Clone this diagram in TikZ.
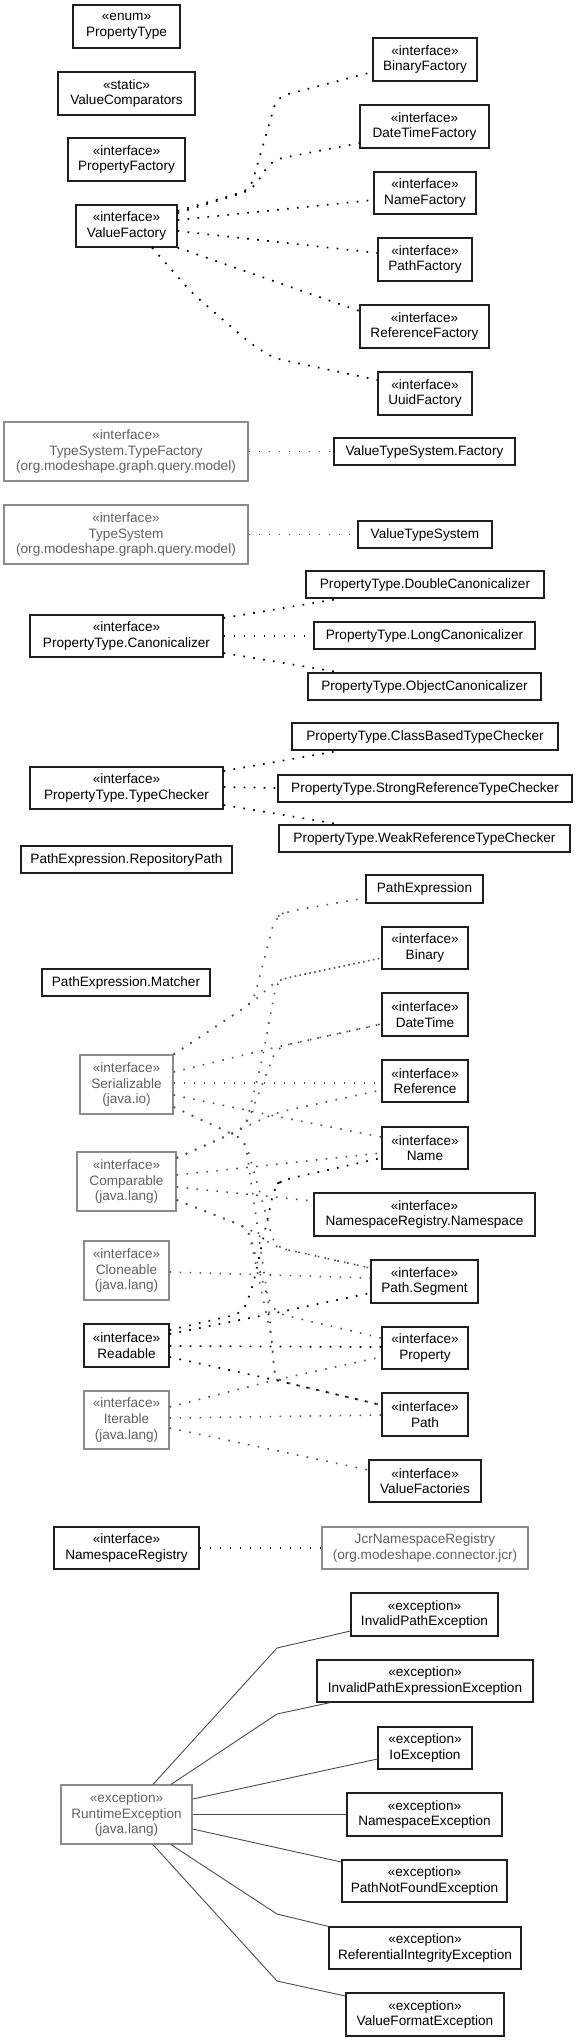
\documentclass[tikz,border=0pt]{standalone}
\usepackage{fontspec}
\setmainfont{Liberation Sans}
\usetikzlibrary{calc}
\tikzset{
  cls/.style={draw=black!88, line width=1.2pt, inner sep=0pt, align=center, text=black, font=\fontsize{13.6}{15.7}\selectfont},
  gcls/.style={cls, draw=black!45, text=black!62},
  dep/.style={line width=1.7pt, dash pattern=on 1.7pt off 8.3pt, black},
  gdep/.style={line width=1.6pt, dash pattern=on 1.6pt off 8.4pt, black!68},
  gen/.style={line width=0.9pt, black!70},
  rc/.style={rounded corners=10pt}
}
\newcommand\ubox[7]{%
  \node[#2, minimum width={(#5-#3)*1pt}, minimum height={(#6-#4)*1pt}] (#1) at ({(#3+#5)/2},{(#4+#6)/2}) {#7};}
\begin{document}
\begin{tikzpicture}[x=1pt,y=-1pt]
\useasboundingbox (0,0) rectangle (579,2041);
% boxes
\ubox{pt}{cls}{73}{5}{180}{48}{«enum»\\PropertyType}
\ubox{vc}{cls}{58}{72}{195}{115}{«static»\\ValueComparators}
\ubox{pf}{cls}{68}{138}{185}{181}{«interface»\\PropertyFactory}
\ubox{vf}{cls}{76}{205}{177}{247}{«interface»\\ValueFactory}
\ubox{bf}{cls}{373}{38}{477}{81}{«interface»\\BinaryFactory}
\ubox{dtf}{cls}{360}{105}{489}{148}{«interface»\\DateTimeFactory}
\ubox{nf}{cls}{374}{172}{476}{214}{«interface»\\NameFactory}
\ubox{pthf}{cls}{378}{238}{472}{281}{«interface»\\PathFactory}
\ubox{rf}{cls}{360}{305}{489}{348}{«interface»\\ReferenceFactory}
\ubox{uf}{cls}{378}{372}{472}{415}{«interface»\\UuidFactory}
\ubox{tf}{gcls}{4}{422}{248}{481}{«interface»\\TypeSystem.TypeFactory\\(org.modeshape.graph.query.model)}
\ubox{vtsf}{cls}{334}{438}{515}{465}{ValueTypeSystem.Factory}
\ubox{ts}{gcls}{4}{505}{248}{564}{«interface»\\TypeSystem\\(org.modeshape.graph.query.model)}
\ubox{vts}{cls}{358}{521}{492}{548}{ValueTypeSystem}
\ubox{dc}{cls}{306}{571}{544}{598}{PropertyType.DoubleCanonicalizer}
\ubox{can}{cls}{30}{615}{223}{657}{«interface»\\PropertyType.Canonicalizer}
\ubox{lc}{cls}{314}{622}{535}{649}{PropertyType.LongCanonicalizer}
\ubox{oc}{cls}{308}{673}{541}{700}{PropertyType.ObjectCanonicalizer}
\ubox{cbtc}{cls}{292}{723}{558}{750}{PropertyType.ClassBasedTypeChecker}
\ubox{tc}{cls}{30}{767}{223}{809}{«interface»\\PropertyType.TypeChecker}
\ubox{srtc}{cls}{278}{775}{572}{802}{PropertyType.StrongReferenceTypeChecker}
\ubox{wrtc}{cls}{279}{825}{570}{852}{PropertyType.WeakReferenceTypeChecker}
\ubox{rp}{cls}{21}{846}{232}{873}{PathExpression.RepositoryPath}
\ubox{pe}{cls}{366}{875}{483}{903}{PathExpression}
\ubox{bin}{cls}{382}{927}{468}{969}{«interface»\\Binary}
\ubox{pem}{cls}{42}{969}{210}{996}{PathExpression.Matcher}
\ubox{dt}{cls}{382}{993}{468}{1036}{«interface»\\DateTime}
\ubox{ser}{gcls}{80}{1055}{173}{1114}{«interface»\\Serializable\\(java.io)}
\ubox{ref}{cls}{382}{1060}{468}{1102}{«interface»\\Reference}
\ubox{name}{cls}{382}{1127}{468}{1169}{«interface»\\Name}
\ubox{cmp}{gcls}{77}{1152}{176}{1211}{«interface»\\Comparable\\(java.lang)}
\ubox{ns}{cls}{314}{1193}{535}{1236}{«interface»\\NamespaceRegistry.Namespace}
\ubox{cln}{gcls}{84}{1241}{169}{1300}{«interface»\\Cloneable\\(java.lang)}
\ubox{seg}{cls}{371}{1260}{478}{1303}{«interface»\\Path.Segment}
\ubox{rd}{cls}{84}{1324}{169}{1367}{«interface»\\Readable}
\ubox{prop}{cls}{382}{1327}{468}{1369}{«interface»\\Property}
\ubox{itr}{gcls}{84}{1391}{169}{1449}{«interface»\\Iterable\\(java.lang)}
\ubox{path}{cls}{382}{1393}{468}{1436}{«interface»\\Path}
\ubox{vfs}{cls}{369}{1460}{481}{1502}{«interface»\\ValueFactories}
\ubox{nr}{cls}{54}{1527}{199}{1569}{«interface»\\NamespaceRegistry}
\ubox{jcr}{gcls}{322}{1527}{528}{1569}{JcrNamespaceRegistry\\(org.modeshape.connector.jcr)}
\ubox{ipe}{cls}{351}{1593}{498}{1636}{«exception»\\InvalidPathException}
\ubox{ipee}{cls}{317}{1660}{533}{1702}{«exception»\\InvalidPathExpressionException}
\ubox{ioe}{cls}{378}{1727}{472}{1769}{«exception»\\IoException}
\ubox{rte}{gcls}{61}{1785}{192}{1844}{«exception»\\RuntimeException\\(java.lang)}
\ubox{nse}{cls}{347}{1793}{502}{1836}{«exception»\\NamespaceException}
\ubox{pnf}{cls}{342}{1860}{507}{1902}{«exception»\\PathNotFoundException}
\ubox{rie}{cls}{329}{1927}{521}{1969}{«exception»\\ReferentialIntegrityException}
\ubox{vfe}{cls}{346}{1993}{504}{2036}{«exception»\\ValueFormatException}
% ValueFactory connectors
\draw[dep,rc] (vf.east |- 0,211) -- (250,190) -- (277,97) -- (bf.west |- 0,72);
\draw[dep,rc] (vf.east |- 0,213) -- (252,190) -- (272,160) -- (dtf.west |- 0,143);
\draw[dep] (vf.east |- 0,220) -- (nf.west |- 0,200);
\draw[dep] (vf.east |- 0,231) -- (pthf.west |- 0,253);
\draw[dep] (vf.south east) -- (rf.west |- 0,311);
\draw[dep,rc] (vf.south -| 152,0) -- (192,293) -- (250,343) -- (273,358) -- (uf.west |- 0,380);
% TypeSystem
\draw[gdep] (tf.east) -- (vtsf.west);
\draw[gdep] (ts.east) -- (vts.west);
% Canonicalizer / TypeChecker
\draw[dep] (can.east |- 0,618) -- (dc.south -| 340,0);
\draw[dep] (can.east |- 0,636) -- (lc.west |- 0,636);
\draw[dep] (can.east |- 0,653) -- (oc.north -| 340,0);
\draw[dep] (tc.east |- 0,771) -- (cbtc.south -| 340,0);
\draw[dep] (tc.east |- 0,787) -- (srtc.west |- 0,788);
\draw[dep] (tc.east |- 0,805) -- (wrtc.north -| 340,0);
% Serializable
\draw[gdep,rc] (ser.north east) -- (253,1002) -- (275,918) -- (285,912) -- (pe.west |- 0,898);
\draw[gdep,rc] (ser.north east) -- (253,1002) -- (277,980) -- (bin.west |- 0,958);
\draw[gdep,rc] (ser.east |- 0,1072) -- (277,1047) -- (dt.west |- 0,1024);
\draw[gdep] (ser.east |- 0,1083) -- (ref.west |- 0,1083);
\draw[gdep,rc] (ser.east |- 0,1095) -- (270,1115) -- (name.west |- 0,1137);
\draw[gdep,rc] (ser.east |- 0,1107) -- (245,1140) -- (262,1200) -- (275,1247) -- (seg.west |- 0,1268);
\draw[gdep,rc] (ser.east |- 0,1107) -- (245,1140) -- (268,1300) -- (275,1380) -- (path.west |- 0,1405);
% Comparable
\draw[gdep,rc] (cmp.east |- 0,1158) -- (245,1128) -- (262,1060) -- (277,980) -- (bin.west |- 0,958);
\draw[gdep,rc] (cmp.east |- 0,1158) -- (245,1128) -- (268,1070) -- (277,1047) -- (dt.west |- 0,1024);
\draw[gdep,rc] (cmp.east |- 0,1158) -- (250,1125) -- (275,1113) -- (ref.west |- 0,1090);
\draw[gdep] (cmp.east |- 0,1175) -- (name.west |- 0,1153);
\draw[gdep] (cmp.east |- 0,1187) -- (ns.west |- 0,1201);
\draw[gdep,rc] (cmp.east |- 0,1200) -- (248,1228) -- (275,1247) -- (seg.west |- 0,1268);
\draw[gdep,rc] (cmp.east |- 0,1200) -- (248,1228) -- (265,1290) -- (275,1313) -- (prop.west |- 0,1338);
\draw[gdep,rc] (cmp.east |- 0,1200) -- (248,1228) -- (272,1340) -- (275,1380) -- (path.west |- 0,1405);
% Cloneable
\draw[gdep] (cln.east |- 0,1272) -- (seg.west |- 0,1278);
% Readable
\draw[dep,rc] (rd.east |- 0,1330) -- (243,1313) -- (253,1285) -- (275,1185) -- (283,1180) -- (name.west |- 0,1158);
\draw[dep,rc] (rd.east |- 0,1334) -- (275,1313) -- (seg.west |- 0,1293);
\draw[dep] (rd.east |- 0,1346) -- (prop.west |- 0,1347);
\draw[dep,rc] (rd.east |- 0,1357) -- (275,1380) -- (path.west |- 0,1405);
% Iterable
\draw[gdep,rc] (itr.east |- 0,1407) -- (275,1380) -- (prop.west |- 0,1357);
\draw[gdep] (itr.east |- 0,1418) -- (path.west |- 0,1415);
\draw[gdep] (itr.east |- 0,1428) -- (vfs.west |- 0,1470);
% NamespaceRegistry
\draw[dep] (nr.east) -- (jcr.west);
% exceptions
\draw[gen] (rte.north -| 153,0) -- (277,1648) -- (ipe.west |- 0,1631);
\draw[gen] (rte.north -| 171,0) -- (277,1714) -- (ipee.south -| 330,0);
\draw[gen] (rte.east |- 0,1799) -- (ioe.west |- 0,1759);
\draw[gen] (rte.east) -- (nse.west);
\draw[gen] (rte.east |- 0,1829) -- (pnf.west |- 0,1862);
\draw[gen] (rte.south -| 171,0) -- (277,1914) -- (rie.north west);
\draw[gen] (rte.south -| 153,0) -- (277,1981) -- (vfe.west |- 0,1996);
\end{tikzpicture}
\end{document}
